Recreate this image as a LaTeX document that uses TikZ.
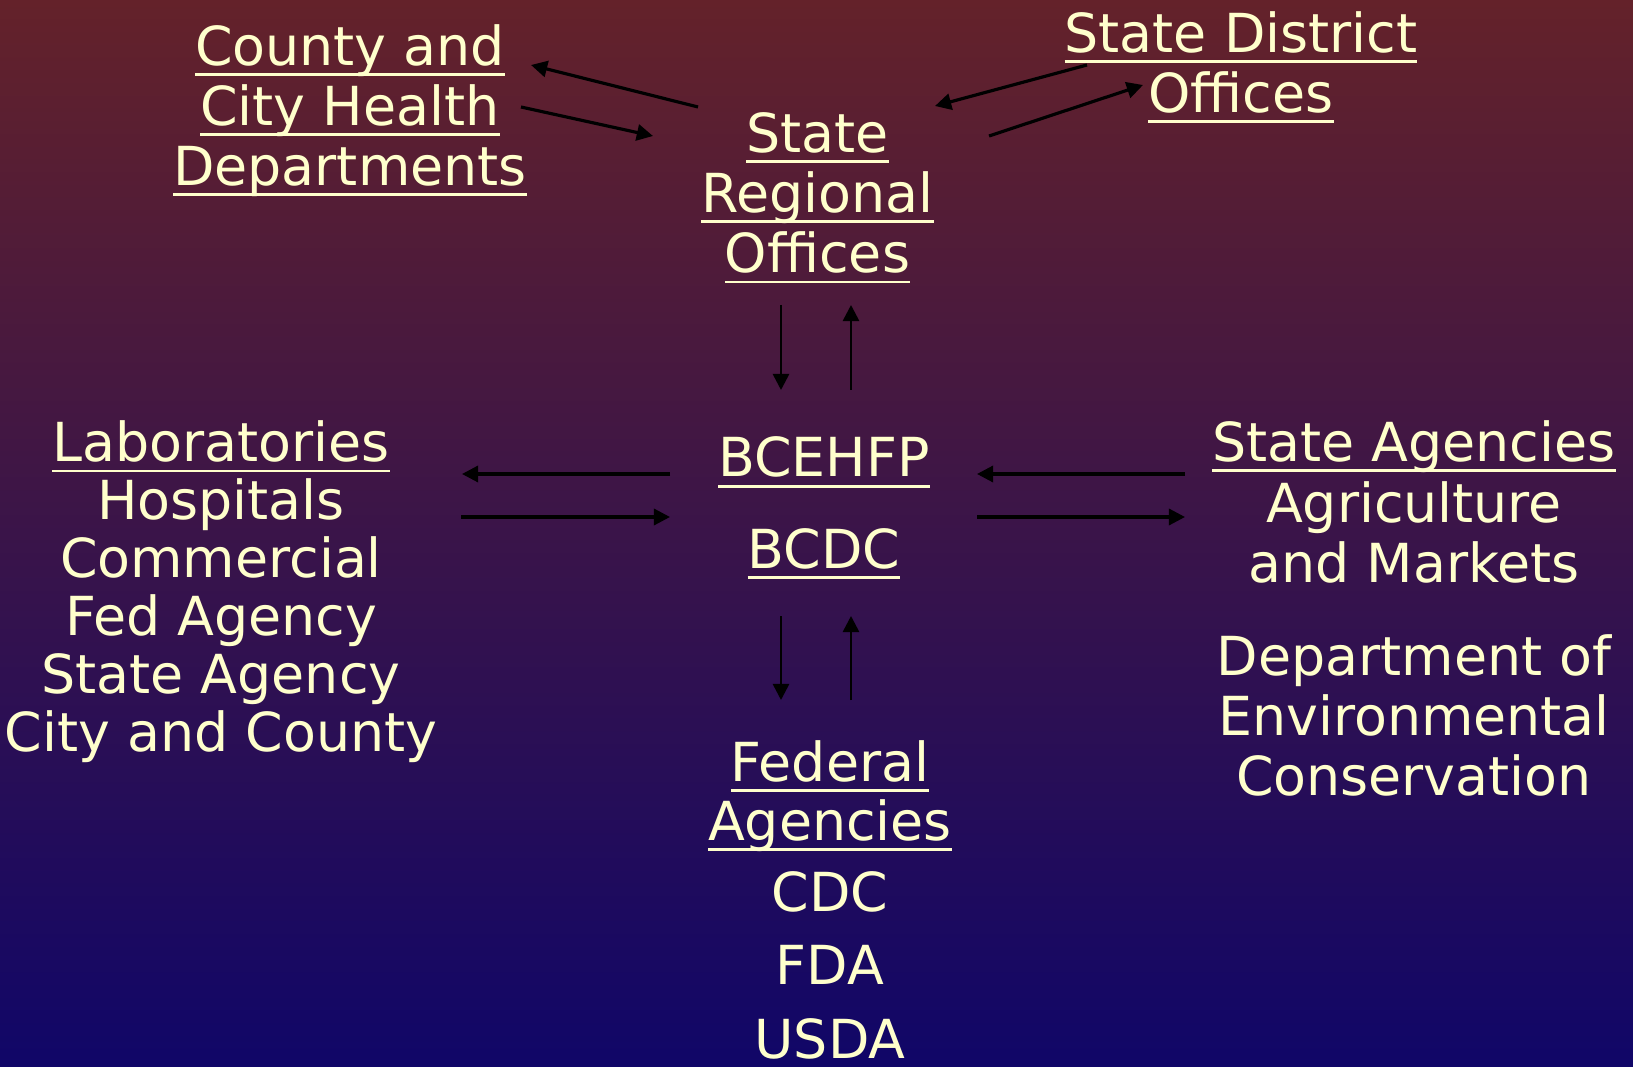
\documentclass[tikz,border=0pt]{standalone}
\usepackage{fontspec}
\setmainfont{DejaVu Sans}
\usetikzlibrary{arrows.meta}
\definecolor{bgtop}{RGB}{100,34,42}
\definecolor{bgmid}{RGB}{74,26,78}
\definecolor{bgbot}{RGB}{16,6,104}
\definecolor{cream}{RGB}{255,255,204}
\newcommand{\ul}[1]{\setbox0=\hbox{#1}\rlap{\rule[-3pt]{\wd0}{0.8pt}}\box0}
\begin{document}
\begin{tikzpicture}[x=0.01cm,y=-0.01cm,
  lbl/.style={text=cream,align=center,inner sep=0pt,anchor=base,
    font=\fontsize{15.3}{17.1}\selectfont},
  arr/.style={-{Triangle[length=4.6pt,width=4.6pt]},line width=0.9pt,black},
  varr/.style={arr,line width=0.75pt}]
\shade[top color=bgtop,middle color=bgmid,bottom color=bgbot,use as bounding box]
  (0,0) rectangle (1633,1067);
% offices (anchored at the baseline of the last line)
\node[lbl] (county) at (350,185.4) {\ul{County and}\\\ul{City Health}\\\ul{Departments}};
\node[lbl] (district) at (1241,112.4) {\ul{State District}\\\ul{Offices}};
\node[lbl] (regional) at (817.5,272.8) {\ul{State}\\\ul{Regional}\\\ul{Offices}};
% centre
\node[lbl] (bcehfp) at (824,477) {\ul{BCEHFP}};
\node[lbl] (bcdc) at (824,568.6) {\ul{BCDC}};
% sides
\node[lbl,font=\fontsize{15.3}{16.5}\selectfont] (labs) at (221,751.9)
  {\ul{Laboratories}\\Hospitals\\Commercial\\Fed Agency\\State Agency\\City and County};
\node[lbl,font=\fontsize{15.3}{17.3}\selectfont] (stateag) at (1414,583)
  {\ul{State Agencies}\\Agriculture\\and Markets};
\node[lbl] (dec) at (1414,795.7) {Department of\\Environmental\\Conservation};
% federal
\node[lbl,font=\fontsize{15.3}{16.8}\selectfont] (federal) at (830,840.7) {\ul{Federal}\\\ul{Agencies}};
\node[lbl,font=\fontsize{15.3}{20.8}\selectfont] (fedlist) at (830,1058) {CDC\\FDA\\USDA};
% arrow ends
\coordinate (c1) at (698,107); \coordinate (c2) at (531,65);
\coordinate (c3) at (521,107); \coordinate (c4) at (653,136);
\coordinate (d1) at (1087,65); \coordinate (d2) at (935,106);
\coordinate (d3) at (989,136); \coordinate (d4) at (1143,85);
\coordinate (r1) at (781,305); \coordinate (r2) at (781,390);
\coordinate (r3) at (851,390); \coordinate (r4) at (851,305);
\coordinate (f1) at (781,616); \coordinate (f2) at (781,700);
\coordinate (f3) at (851,700); \coordinate (f4) at (851,616);
\coordinate (l1) at (670,474); \coordinate (l2) at (462,474);
\coordinate (l3) at (461,517); \coordinate (l4) at (670,517);
\coordinate (s1) at (1185,474); \coordinate (s2) at (977,474);
\coordinate (s3) at (977,517); \coordinate (s4) at (1185,517);
\foreach \a/\b in {c1/c2,c3/c4,d1/d2,d3/d4,l1/l2,l3/l4,s1/s2,s3/s4}
  \draw[arr] (\a) -- (\b);
\foreach \a/\b in {r1/r2,r3/r4,f1/f2,f3/f4}
  \draw[varr] (\a) -- (\b);
\end{tikzpicture}
\end{document}
